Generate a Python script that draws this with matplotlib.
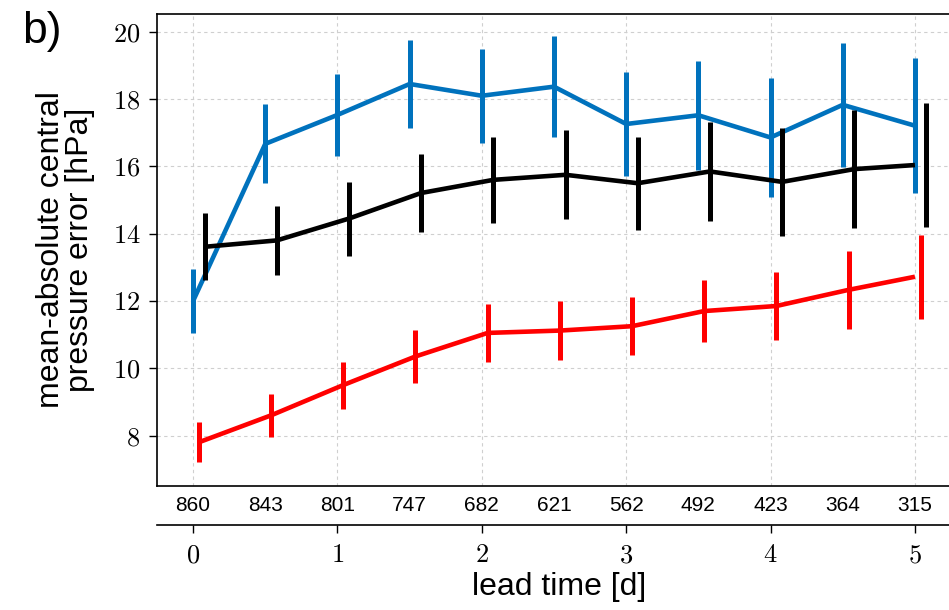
import numpy as np
import matplotlib
matplotlib.use("Agg")
import matplotlib.pyplot as plt
from matplotlib.ticker import FuncFormatter
import matplotlib.transforms as mtransforms

plt.rcParams['font.family'] = ['Liberation Sans', 'DejaVu Sans']
plt.rcParams['mathtext.fontset'] = 'cm'

# ---- data ----
lead_time = [0, 0.5, 1, 1.5, 2, 2.5, 3, 3.5, 4, 4.5, 5]
counts = [860, 843, 801, 747, 682, 621, 562, 492, 423, 364, 315]

blue_mean = [12.0, 16.67, 17.53, 18.45, 18.10, 18.37, 17.26, 17.52, 16.86, 17.83, 17.21]
blue_err = [0.95, 1.17, 1.23, 1.32, 1.40, 1.50, 1.55, 1.62, 1.77, 1.85, 2.00]

black_mean = [13.61, 13.80, 14.45, 15.21, 15.60, 15.75, 15.50, 15.85, 15.54, 15.92, 16.04]
black_err = [1.00, 1.03, 1.10, 1.17, 1.28, 1.32, 1.38, 1.47, 1.60, 1.75, 1.83]

red_mean = [7.80, 8.60, 9.50, 10.35, 11.05, 11.12, 11.25, 11.70, 11.85, 12.33, 12.72]
red_err = [0.60, 0.63, 0.70, 0.78, 0.85, 0.88, 0.87, 0.92, 1.00, 1.16, 1.25]

day_ticks = [0, 1, 2, 3, 4, 5]
y_ticks = [8, 10, 12, 14, 16, 18, 20]

series = [
    (blue_mean, blue_err, '#0072BD', 0.0),
    (red_mean, red_err, '#FF0000', 0.04),
    (black_mean, black_err, '#000000', 0.08),
]

fig = plt.figure(figsize=(9.49, 6.10), dpi=100)
W, H = 949, 610
ax = fig.add_axes([157 / W, (H - 486) / H, (951 - 157) / W, 472 / H])

x = np.asarray(lead_time, dtype=float)
for mean, err, col, off in series:
    xe = x + off
    xl = np.clip(xe, x.min(), x.max())
    ax.plot(xl, mean, color=col, lw=3.3, solid_capstyle='butt',
            solid_joinstyle='round', zorder=3)
    ax.errorbar(xe, mean, yerr=err, fmt='none', ecolor=col, elinewidth=3.6,
                capsize=0, zorder=3)

ax.set_xlim(-0.25, 5.25)
ax.set_ylim(6.5, 20.53)
ax.set_xticks(day_ticks)
ax.set_yticks(y_ticks)
ax.tick_params(axis='x', bottom=False, labelbottom=False)
ax.tick_params(axis='y', direction='out', length=6, width=1.0, pad=6,
               labelsize=19)
ax.yaxis.set_major_formatter(FuncFormatter(lambda v, p: r'$%d$' % v))
ax.grid(True, color='#cfcfcf', linestyle=(0, (3, 3)), linewidth=0.8, zorder=0)
for sp in ax.spines.values():
    sp.set_linewidth(1.2)

# counts row
trans = mtransforms.blended_transform_factory(ax.transData, ax.transAxes)
for xv, c in zip(lead_time, counts):
    ax.text(xv, -0.042, str(c), transform=trans, ha='center', va='center',
            fontsize=15)

# lead time axis
sec = ax.secondary_xaxis(-0.0826)
sec.set_xticks(day_ticks)
sec.xaxis.set_major_formatter(FuncFormatter(lambda v, p: r'$%d$' % v))
sec.tick_params(direction='out', length=6, width=1.0, pad=7, labelsize=19)
sec.spines['bottom'].set_linewidth(1.2)

fig.text(559 / W, (H - 595) / H, 'lead time [d]', ha='center', va='baseline',
         fontsize=23)

ax.set_ylabel('mean-absolute central\npressure error [hPa]', fontsize=23,
              linespacing=0.95)
ax.yaxis.set_label_coords(-0.078, 0.5)

fig.text(42 / W, (H - 43) / H, 'b)', ha='center', va='baseline', fontsize=32)

fig.savefig('out.png', dpi=100)
